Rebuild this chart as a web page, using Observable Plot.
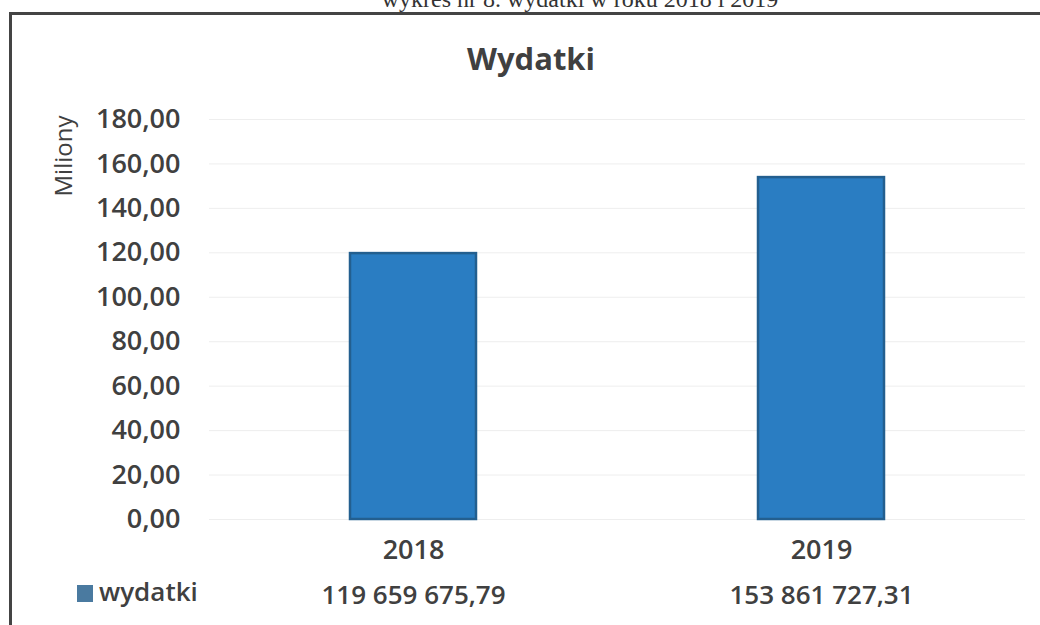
<!DOCTYPE html>
<html>
<head>
<meta charset="utf-8">
<script src="https://cdn.jsdelivr.net/npm/d3@7"></script>
<script src="https://cdn.jsdelivr.net/npm/@observablehq/plot@0.6"></script>
<style>
  html, body { margin: 0; padding: 0; background: #fff; }
  #wrap { position: relative; width: 1040px; height: 625px; overflow: hidden; font-family: "Open Sans", sans-serif; color: #404040; }
  #caption { position: absolute; left: 0; width: 1160px; top: -14px; text-align: center; font-family: "Liberation Serif", serif; font-size: 24px; color: #333; white-space: nowrap; }
  #frame { position: absolute; left: 9px; top: 12px; right: -10px; bottom: -10px; border-left: 3px solid #444; border-top: 3px solid #444; }
  #title { position: absolute; left: 0; width: 1062px; top: 37px; text-align: center; font-size: 31px; font-weight: 700; color: #404040; }
  #ylabel { position: absolute; left: 62px; top: 156px; transform: translate(-50%, -50%) rotate(-90deg); font-size: 24px; font-weight: 400; color: #404040; white-space: nowrap; }
  #legend { position: absolute; left: 77px; top: 573px; font-size: 26px; font-weight: 600; color: #404040; white-space: nowrap; display: flex; align-items: center; }
  #legend .sw { display: inline-block; width: 16px; height: 17px; background: #4a7aa0; margin-right: 6px; margin-top: 4px; }
  #chart { position: absolute; left: 0; top: 0; }
</style>
</head>
<body>
<div id="wrap">
  <div id="caption">wykres nr 8. wydatki w roku 2018 i 2019</div>
  <div id="frame"></div>
  <div id="title">Wydatki</div>
  <div id="ylabel">Miliony</div>
  <div id="chart"></div>
  <div id="legend"><span class="sw"></span>wydatki</div>
</div>
<script>
const years = ["2018", "2019"];
const valuesMillions = [119.65967579, 153.86172731];
const valueLabels = ["119 659 675,79", "153 861 727,31"];
const yTicks = [0, 20, 40, 60, 80, 100, 120, 140, 160, 180];
const seriesName = "wydatki";

const data = years.map((y, i) => ({year: y, value: valuesMillions[i], label: valueLabels[i]}));
const fmt = v => v.toFixed(2).replace(".", ",");

const chart = Plot.plot({
  width: 1040,
  height: 625,
  marginLeft: 209,
  marginRight: 15,
  marginTop: 119,
  marginBottom: 106,
  style: {fontFamily: "'Open Sans', sans-serif", color: "#404040", background: "transparent", overflow: "visible"},
  x: {domain: years, paddingInner: 0.69, paddingOuter: 0.345, label: null, tickSize: 0, tickPadding: 20},
  y: {domain: [0, 180], ticks: yTicks, tickFormat: fmt, label: null, tickSize: 0, tickPadding: 29},
  marks: [
    Plot.gridY(yTicks, {stroke: "#eeeeee", strokeOpacity: 1}),
    Plot.axisY({ticks: yTicks, tickFormat: fmt, tickSize: 0, tickPadding: 29, fontSize: 27, fontWeight: 600, fill: "#404040", label: null}),
    Plot.axisX({tickSize: 0, tickPadding: 20, fontSize: 27, fontWeight: 600, fill: "#404040", label: null}),
    Plot.barY(data, {x: "year", y: "value", fill: "#2a7dc2", stroke: "#235f8f", strokeWidth: 2.5}),
    Plot.text(data, {x: "year", text: "label", frameAnchor: "bottom", dy: 84, fontSize: 26, fontWeight: 600, fill: "#404040"})
  ]
});
document.getElementById("chart").appendChild(chart);
</script>
</body>
</html>
